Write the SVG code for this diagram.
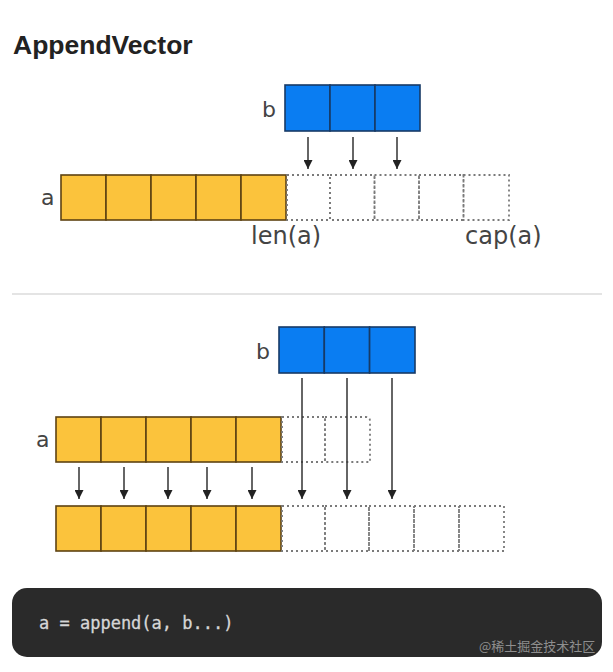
<svg xmlns="http://www.w3.org/2000/svg" width="613" height="672" viewBox="0 0 613 672">
<defs>
<style>
.y{fill:#FBC33C;stroke:#5e4312;stroke-width:1.6}
.bl{fill:#0A7DF2;stroke:#173a66;stroke-width:1.6}
.d{fill:none;stroke:#7a7a7a;stroke-width:1.8;stroke-dasharray:2 3}
.lbl{font-family:"DejaVu Sans",sans-serif;font-size:22px;fill:#444}
.big{font-size:24px}
.ln{stroke:#333;stroke-width:1.5;fill:none}
</style>
<marker id="ah" viewBox="0 0 10 10" refX="10" refY="5" markerWidth="9" markerHeight="9" markerUnits="userSpaceOnUse" orient="auto">
<path d="M0,0 L10,5 L0,10 z" fill="#222"/>
</marker>
</defs>
<rect width="613" height="672" fill="#ffffff"/>
<text x="13" y="54" font-family="Liberation Sans, Arial, sans-serif" font-weight="bold" font-size="26.5" fill="#222">AppendVector</text>

<g id="top-b">
<rect class="bl" x="285" y="85" width="45" height="46"/>
<rect class="bl" x="330" y="85" width="45" height="46"/>
<rect class="bl" x="375" y="85" width="45" height="46"/>
<text class="lbl" x="262" y="117">b</text>
</g>
<g id="top-a">
<rect class="y" x="61" y="175" width="45" height="45"/>
<rect class="y" x="106" y="175" width="45" height="45"/>
<rect class="y" x="151" y="175" width="45" height="45"/>
<rect class="y" x="196" y="175" width="45" height="45"/>
<rect class="y" x="241" y="175" width="45" height="45"/>
<text class="lbl" x="41" y="205">a</text>
</g>
<g id="top-cap">
<rect class="d" x="287" y="175" width="43" height="45"/>
<rect class="d" x="330" y="175" width="44.5" height="45"/>
<rect class="d" x="374.5" y="175" width="44.5" height="45"/>
<rect class="d" x="419" y="175" width="44.5" height="45"/>
<rect class="d" x="463.5" y="175" width="45.5" height="45"/>
<text class="lbl big" x="251" y="244">len(a)</text>
<text class="lbl big" x="465" y="244">cap(a)</text>
</g>

<line x1="12" y1="294" x2="602" y2="294" stroke="#e4e4e4" stroke-width="2"/>

<g id="bottom-b">
<rect class="bl" x="279" y="327" width="45.3" height="46"/>
<rect class="bl" x="324.3" y="327" width="45.3" height="46"/>
<rect class="bl" x="369.6" y="327" width="45.4" height="46"/>
<text class="lbl" x="256" y="359">b</text>
</g>
<g id="mid-a">
<rect class="y" x="56" y="417" width="45" height="45"/>
<rect class="y" x="101" y="417" width="45" height="45"/>
<rect class="y" x="146" y="417" width="45" height="45"/>
<rect class="y" x="191" y="417" width="45" height="45"/>
<rect class="y" x="236" y="417" width="45" height="45"/>
<rect class="d" x="282" y="417" width="43" height="45"/>
<path class="d" d="M325,417 H366 Q370,417 370,421 V462 H325 Z"/>
<text class="lbl" x="36" y="447">a</text>
</g>
<g id="result">
<rect class="y" x="56" y="506" width="45" height="45"/>
<rect class="y" x="101" y="506" width="45" height="45"/>
<rect class="y" x="146" y="506" width="45" height="45"/>
<rect class="y" x="191" y="506" width="45" height="45"/>
<rect class="y" x="236" y="506" width="45" height="45"/>
<rect class="d" x="282" y="506" width="43" height="45"/>
<rect class="d" x="325" y="506" width="44" height="45"/>
<rect class="d" x="369" y="506" width="45" height="45"/>
<rect class="d" x="414" y="506" width="45" height="45"/>
<rect class="d" x="459" y="506" width="45" height="45"/>
</g>

<g id="connectors">
<line class="ln" x1="308" y1="137" x2="308" y2="169" marker-end="url(#ah)"/>
<line class="ln" x1="353" y1="137" x2="353" y2="169" marker-end="url(#ah)"/>
<line class="ln" x1="397" y1="137" x2="397" y2="169" marker-end="url(#ah)"/>
<line class="ln" x1="302" y1="378" x2="302" y2="499" marker-end="url(#ah)"/>
<line class="ln" x1="347" y1="378" x2="347" y2="499" marker-end="url(#ah)"/>
<line class="ln" x1="392" y1="378" x2="392" y2="499" marker-end="url(#ah)"/>
<line class="ln" x1="79" y1="467" x2="79" y2="499" marker-end="url(#ah)"/>
<line class="ln" x1="124" y1="467" x2="124" y2="499" marker-end="url(#ah)"/>
<line class="ln" x1="168" y1="467" x2="168" y2="499" marker-end="url(#ah)"/>
<line class="ln" x1="207" y1="467" x2="207" y2="499" marker-end="url(#ah)"/>
<line class="ln" x1="252" y1="467" x2="252" y2="499" marker-end="url(#ah)"/>
</g>

<g id="code">
<rect x="12" y="588" width="590" height="69" rx="15" fill="#2a2a2a"/>
<text x="39" y="629" font-family="DejaVu Sans Mono, monospace" font-size="17" fill="#d6d6d6" stroke="#d6d6d6" stroke-width="0.3">a = append(a, b...)</text>
<text x="479" y="651" font-family="Noto Sans CJK SC, Noto Sans, sans-serif" font-size="13" fill="#8e8e8e">@稀土掘金技术社区</text>
</g>
</svg>
